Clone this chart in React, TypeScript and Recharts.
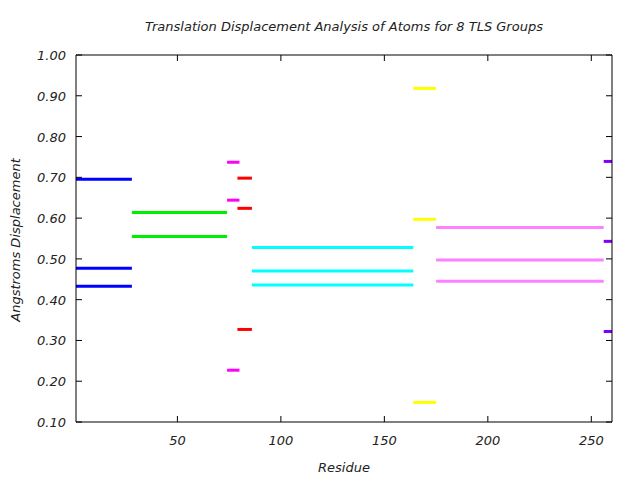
import { ComposedChart, Line, XAxis, YAxis } from "recharts";

// TLS group residue ranges and their three translation displacement values
const groupRanges: [number, number][] = [
  [1, 28],
  [28, 74],
  [74, 80],
  [79, 86],
  [86, 164],
  [164, 175],
  [175, 256],
  [256, 260],
];

const groupValues: number[][] = [
  [0.695, 0.477, 0.433],
  [0.614, 0.555],
  [0.737, 0.644, 0.227],
  [0.698, 0.624, 0.327],
  [0.528, 0.47, 0.436],
  [0.918, 0.597, 0.148],
  [0.577, 0.497, 0.445],
  [0.739, 0.543, 0.322],
];

const groupColors = [
  "#0000ff",
  "#00ee00",
  "#ff00ff",
  "#ff0000",
  "#00ffff",
  "#ffff00",
  "#ff80ff",
  "#8000ff",
];

const xTicks = [50, 100, 150, 200, 250];
const yTicks = [0.1, 0.2, 0.3, 0.4, 0.5, 0.6, 0.7, 0.8, 0.9, 1.0];

const FONT = "'DejaVu Sans', sans-serif";
const FS = 13;
const TICK_LEN = 6;

const BottomTick = (props: any) => {
  const { x, y, payload } = props;
  return (
    <g>
      <line x1={x} y1={y} x2={x} y2={y - TICK_LEN} stroke="#000" strokeWidth={1} />
      <text x={x} y={y + 23} textAnchor="middle" fontSize={FS} fontStyle="italic" fontFamily={FONT} fill="#222">
        {payload.value}
      </text>
    </g>
  );
};

const TopTick = (props: any) => {
  const { x, y } = props;
  return <line x1={x} y1={y} x2={x} y2={y + TICK_LEN} stroke="#000" strokeWidth={1} />;
};

const LeftTick = (props: any) => {
  const { x, y, payload } = props;
  return (
    <g>
      <line x1={x} y1={y} x2={x + TICK_LEN} y2={y} stroke="#000" strokeWidth={1} />
      <text x={x - 10} y={y + 5} textAnchor="end" fontSize={FS} fontStyle="italic" fontFamily={FONT} fill="#222">
        {Number(payload.value).toFixed(2)}
      </text>
    </g>
  );
};

const RightTick = (props: any) => {
  const { x, y } = props;
  return <line x1={x} y1={y} x2={x - TICK_LEN} y2={y} stroke="#000" strokeWidth={1} />;
};

export default function App() {
  const segments = groupRanges.flatMap(([start, end], gi) =>
    groupValues[gi].map((v, vi) => ({
      key: `g${gi}-${vi}`,
      color: groupColors[gi],
      data: [
        { x: start, y: v },
        { x: end, y: v },
      ],
    }))
  );

  return (
    <div style={{ position: "absolute", left: 0, top: 0, width: 640, height: 480, background: "#fff" }}>
      <svg width={640} height={480} style={{ position: "absolute", left: 0, top: 0, pointerEvents: "none" }}>
        <text x={344} y={31} textAnchor="middle" fontSize={FS} fontStyle="italic" fontFamily={FONT} fill="#222">
          Translation Displacement Analysis of Atoms for 8 TLS Groups
        </text>
        <text x={344} y={472} textAnchor="middle" fontSize={FS} fontStyle="italic" fontFamily={FONT} fill="#222">
          Residue
        </text>
        <text
          x={20}
          y={240}
          transform="rotate(-90 20 240)"
          textAnchor="middle"
          fontSize={FS}
          fontStyle="italic"
          fontFamily={FONT}
          fill="#222"
        >
          Angstroms Displacement
        </text>
      </svg>
      <ComposedChart
        width={640}
        height={480}
        margin={{ top: 54, right: 27, bottom: 0, left: 0 }}
        style={{ position: "absolute", left: 0, top: 0 }}
      >
        <XAxis
          xAxisId="bottom"
          dataKey="x"
          type="number"
          domain={[1, 260]}
          ticks={xTicks}
          allowDataOverflow
          height={58}
          tickSize={0}
          tickMargin={0}
          tickLine={false}
          axisLine={{ stroke: "#000", strokeWidth: 1 }}
          tick={<BottomTick />}
        />
        <XAxis
          xAxisId="top"
          orientation="top"
          dataKey="x"
          type="number"
          domain={[1, 260]}
          ticks={xTicks}
          allowDataOverflow
          height={1}
          tickSize={0}
          tickMargin={0}
          tickLine={false}
          axisLine={{ stroke: "#000", strokeWidth: 1 }}
          tick={<TopTick />}
        />
        <YAxis
          yAxisId="left"
          type="number"
          domain={[0.1, 1.0]}
          ticks={yTicks}
          allowDataOverflow
          width={76}
          tickSize={0}
          tickMargin={0}
          tickLine={false}
          axisLine={{ stroke: "#000", strokeWidth: 1 }}
          tick={<LeftTick />}
        />
        <YAxis
          yAxisId="right"
          orientation="right"
          type="number"
          domain={[0.1, 1.0]}
          ticks={yTicks}
          allowDataOverflow
          width={1}
          tickSize={0}
          tickMargin={0}
          tickLine={false}
          axisLine={{ stroke: "#000", strokeWidth: 1 }}
          tick={<RightTick />}
        />
        {segments.map((s) => (
          <Line
            key={s.key}
            xAxisId="bottom"
            yAxisId="left"
            data={s.data}
            dataKey="y"
            stroke={s.color}
            strokeWidth={3}
            dot={false}
            activeDot={false}
            isAnimationActive={false}
            strokeLinecap="butt"
          />
        ))}
      </ComposedChart>
    </div>
  );
}
